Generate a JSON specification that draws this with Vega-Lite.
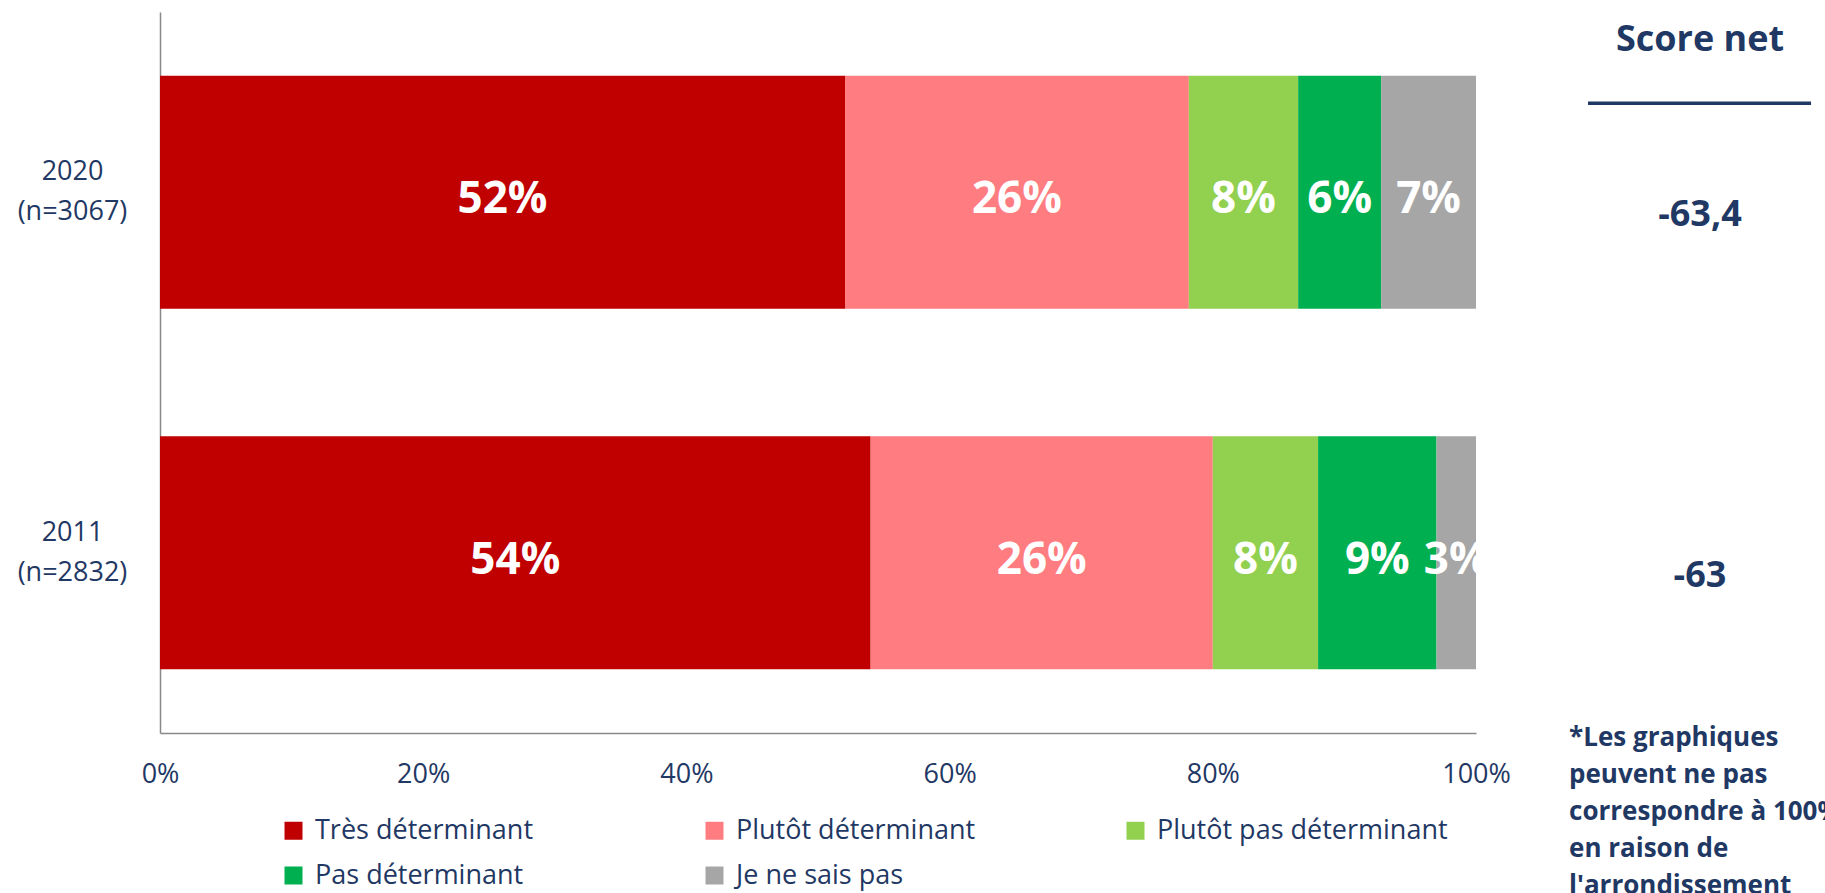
{
  "$schema": "https://vega.github.io/schema/vega-lite/v6.json",
  "width": 1316,
  "height": 721,
  "autosize": {"type": "none"},
  "padding": {"left": 160, "top": 12, "right": 349, "bottom": 160},
  "background": "white",
  "config": {"view": {"stroke": null}, "font": "Open Sans"},
  "datasets": {
    "bars": [
      {"annee": "2020|(n=3067)", "k": 1, "cat": "Très déterminant", "v": 52.0, "lab": "52%"},
      {"annee": "2020|(n=3067)", "k": 2, "cat": "Plutôt déterminant", "v": 26.1, "lab": "26%"},
      {"annee": "2020|(n=3067)", "k": 3, "cat": "Plutôt pas déterminant", "v": 8.3, "lab": "8%"},
      {"annee": "2020|(n=3067)", "k": 4, "cat": "Pas déterminant", "v": 6.3, "lab": "6%"},
      {"annee": "2020|(n=3067)", "k": 5, "cat": "Je ne sais pas", "v": 7.2, "lab": "7%"},
      {"annee": "2011|(n=2832)", "k": 1, "cat": "Très déterminant", "v": 54.0, "lab": "54%"},
      {"annee": "2011|(n=2832)", "k": 2, "cat": "Plutôt déterminant", "v": 26.0, "lab": "26%"},
      {"annee": "2011|(n=2832)", "k": 3, "cat": "Plutôt pas déterminant", "v": 8.0, "lab": "8%"},
      {"annee": "2011|(n=2832)", "k": 4, "cat": "Pas déterminant", "v": 9.0, "lab": "9%"},
      {"annee": "2011|(n=2832)", "k": 5, "cat": "Je ne sais pas", "v": 3.0, "lab": "3%"}
    ],
    "scores": [
      {"annee": "2020|(n=3067)", "s": "-63,4"},
      {"annee": "2011|(n=2832)", "s": "-63"}
    ]
  },
  "encoding": {
    "y": {
      "field": "annee",
      "type": "nominal",
      "sort": ["2020|(n=3067)", "2011|(n=2832)"],
      "title": null,
      "scale": {"paddingInner": 0.354, "paddingOuter": 0.177},
      "axis": {
        "labelExpr": "split(datum.label, '|')",
        "labelAlign": "center",
        "labelBaseline": "middle",
        "labelPadding": 88,
        "labelOffset": -20,
        "labelLineHeight": 40,
        "ticks": false,
        "tickSize": 0,
        "domainColor": "#898989",
        "domainWidth": 1.5,
        "labelColor": "#1F3864",
        "labelFontSize": 27,
        "labelFont": "Open Sans",
        "grid": false
      }
    }
  },
  "layer": [
    {
      "data": {"name": "bars"},
      "mark": {"type": "bar"},
      "encoding": {
        "x": {
          "field": "v",
          "type": "quantitative",
          "stack": "normalize",
          "title": null,
          "scale": {"domain": [0, 1], "nice": false},
          "axis": {
            "format": ".0%",
            "values": [0, 0.2, 0.4, 0.6, 0.8, 1],
            "ticks": false,
            "tickSize": 0,
            "labelPadding": 28,
            "labelFlush": false,
            "labelOverlap": false,
            "domainColor": "#898989",
            "domainWidth": 1.5,
            "labelColor": "#1F3864",
            "labelFontSize": 27,
            "labelFont": "Open Sans",
            "grid": false
          }
        },
        "color": {
          "field": "cat",
          "type": "nominal",
          "scale": {
            "domain": ["Très déterminant", "Plutôt déterminant", "Plutôt pas déterminant", "Pas déterminant", "Je ne sais pas"],
            "range": ["#C00000", "#FF7C80", "#92D050", "#00B050", "#A6A6A6"]
          },
          "legend": {
            "orient": "none",
            "direction": "horizontal",
            "legendX": 120,
            "legendY": 805,
            "columns": 3,
            "gridAlign": "all",
            "columnPadding": 95,
            "rowPadding": 17,
            "padding": 0,
            "title": null,
            "symbolType": "square",
            "symbolSize": 324,
            "symbolStrokeWidth": 0,
            "symbolOpacity": 1,
            "labelFontSize": 27,
            "labelFont": "Open Sans",
            "labelColor": "#1F3864",
            "labelOffset": 8,
            "labelLimit": 500
          }
        },
        "order": {"field": "k", "type": "quantitative"}
      }
    },
    {
      "data": {"name": "bars"},
      "mark": {"type": "text", "clip": true, "fontWeight": "bold", "fontSize": 44, "color": "white", "dy": 8, "font": "Open Sans"},
      "encoding": {
        "x": {"field": "v", "type": "quantitative", "stack": "normalize", "bandPosition": 0.5},
        "text": {"field": "lab"},
        "order": {"field": "k", "type": "quantitative"}
      }
    },
    {
      "data": {"name": "scores"},
      "mark": {"type": "text", "fontWeight": "bold", "fontSize": 36, "color": "#1F3864", "dy": 23, "font": "Open Sans"},
      "encoding": {
        "x": {"datum": 1.1702, "type": "quantitative"},
        "text": {"field": "s"}
      }
    },
    {
      "data": {"values": [{"t": "Score net"}]},
      "mark": {"type": "text", "fontWeight": "bold", "fontSize": 36, "color": "#1F3864", "dy": -152, "font": "Open Sans"},
      "encoding": {
        "x": {"datum": 1.1702, "type": "quantitative"},
        "y": {"datum": "2020|(n=3067)", "type": "nominal"},
        "text": {"field": "t"}
      }
    },
    {
      "data": {"values": [{"t": "rule"}]},
      "mark": {"type": "rule", "color": "#1F3864", "strokeWidth": 3.5, "yOffset": -89},
      "encoding": {
        "x": {"datum": 1.0851, "type": "quantitative"},
        "x2": {"datum": 1.2546},
        "y": {"datum": "2020|(n=3067)", "type": "nominal"}
      }
    },
    {
      "data": {"values": [{"t": "*Les graphiques\npeuvent ne pas\ncorrespondre à 100%\nen raison de\nl'arrondissement"}]},
      "mark": {"type": "text", "align": "left", "baseline": "top", "lineBreak": "\n", "lineHeight": 37, "fontWeight": "bold", "fontSize": 26, "color": "#1F3864", "dy": 172, "font": "Open Sans"},
      "encoding": {
        "x": {"datum": 1.0707, "type": "quantitative"},
        "y": {"datum": "2011|(n=2832)", "type": "nominal"},
        "text": {"field": "t"}
      }
    }
  ]
}
